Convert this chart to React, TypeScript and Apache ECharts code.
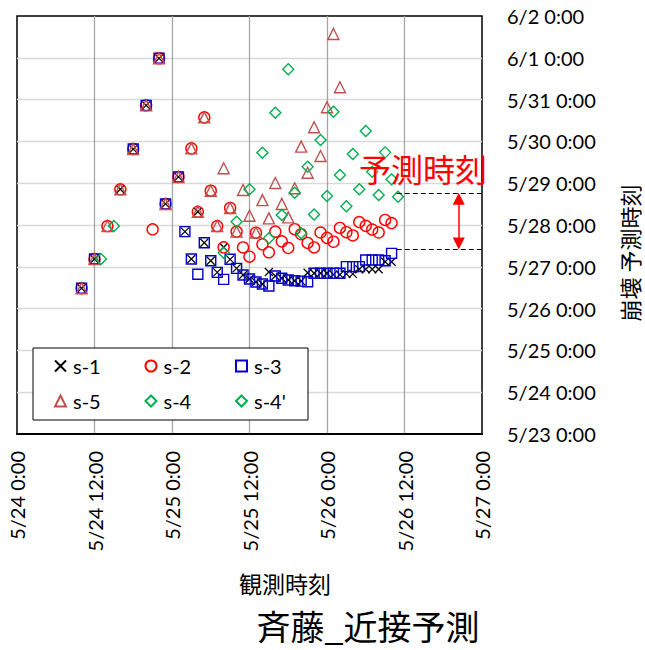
import React, { useEffect, useRef } from 'react';
import * as echarts from 'echarts';

// x: observation time, hours after 5/24 0:00; y: predicted failure time, hours after 5/23 0:00
const s1Hours = [10, 12, 16, 18, 20, 22, 23, 25, 26, 27, 28, 29, 30, 31, 32, 33, 34, 35, 36, 37, 38, 39, 40, 41, 42, 43, 44, 45, 46, 47, 48, 49, 50, 51, 52, 53, 54, 55, 56, 57, 58];
const s1Pred = [83.7, 100.5, 140.5, 163.6, 188.7, 215.7, 132.1, 147.6, 116.2, 100.5, 127.6, 109.8, 99.5, 92.8, 107.2, 100.3, 95.1, 91.3, 89.0, 87.3, 86.1, 93.0, 90.7, 89.4, 88.4, 88.0, 87.8, 92.6, 92.3, 92.3, 92.3, 91.5, 91.5, 91.9, 91.9, 94.6, 94.6, 94.6, 94.6, 98.9, 98.9];

const s2Hours = [10, 12, 14, 16, 18, 20, 21, 22, 23, 25, 27, 28, 29, 30, 31, 32, 33, 34, 35, 36, 37, 38, 39, 40, 41, 42, 43, 44, 45, 46, 47, 48, 49, 50, 51, 52, 53, 54, 55, 56, 57, 58];
const s2Pred = [83.7, 100.5, 119.4, 140.5, 163.6, 188.7, 117.5, 215.7, 132.1, 147.6, 164.0, 127.6, 181.8, 139.7, 119.4, 107.2, 129.8, 116.2, 107.1, 101.8, 115.6, 108.9, 104.3, 116.2, 110.6, 106.8, 117.6, 114.7, 109.7, 107.1, 115.7, 112.6, 110.4, 118.3, 115.9, 114.0, 121.7, 119.5, 117.4, 115.7, 122.9, 121.1];

const s3Hours = [10, 12, 18, 20, 22, 23, 25, 26, 27, 28, 29, 30, 31, 32, 33, 34, 35, 36, 37, 38, 39, 40, 41, 42, 43, 44, 45, 46, 47, 48, 49, 50, 51, 52, 53, 54, 55, 56, 57, 58];
const s3Pred = [83.7, 100.5, 163.6, 188.7, 215.7, 132.1, 147.6, 116.2, 100.5, 91.7, 109.8, 99.5, 92.8, 88.8, 100.3, 95.1, 91.3, 89.0, 87.3, 86.1, 85.0, 90.7, 89.4, 88.4, 88.0, 87.8, 87.4, 92.3, 92.3, 92.3, 92.3, 92.3, 96.1, 96.1, 96.1, 99.9, 99.9, 99.9, 99.5, 103.7];

const s5Hours = [10, 12, 14, 16, 18, 20, 22, 23, 25, 27, 28, 29, 30, 31, 32, 33, 34, 35, 36, 37, 38, 39, 40, 41, 42, 43, 44, 45, 46, 47, 48, 49, 50];
const s5Pred = [83.7, 100.5, 119.4, 140.5, 163.6, 188.7, 215.7, 132.1, 147.6, 164.0, 127.6, 181.8, 139.7, 119.4, 152.6, 129.8, 116.2, 140.1, 125.3, 115.6, 134.3, 123.8, 144.1, 132.1, 124.4, 141.1, 165.0, 150.0, 176.1, 159.6, 187.6, 229.7, 199.1];

const s4Hours = [13, 15, 32, 34, 36, 38, 39, 40, 41, 42, 43, 44];
const s4Pred = [100.5, 119.4, 104.1, 121.9, 140.5, 161.5, 112.4, 184.5, 125.7, 209.4, 138.5, 115.2];

const s4pHours = [45, 46, 47, 48, 49, 50, 51, 52, 53, 54, 55, 56, 57, 58, 59];
const s4pPred = [153.5, 126.0, 168.8, 136.6, 185.0, 148.7, 130.7, 160.8, 140.5, 174.0, 150.6, 137.2, 161.7, 146.2, 136.2];

// annotation: prediction range (hours after 5/23 0:00)
const predUpper = 138.5;
const predLower = 106.0;
const predFromHour = 58.8;
const arrowHour = 68.4;

const xTickHours = [0, 12, 24, 36, 48, 60, 72];
const yTickHours = [0, 24, 48, 72, 96, 120, 144, 168, 192, 216, 240];

const LATIN = "Lato, 'Noto Sans CJK JP', sans-serif";
const CJK = "'Noto Sans CJK JP', sans-serif";

const xLabel = (h: number) => {
  const day = 24 + Math.floor(h / 24);
  return `5/${day} ${h % 24}:00`;
};
const yLabel = (h: number) => {
  const d = 23 + Math.round(h / 24);
  return d > 31 ? `6/${d - 31} 0:00` : `5/${d} 0:00`;
};

const hollow = (name: string, hours: number[], pred: number[], symbol: string, size: number, color: string, bw = 1.4) => ({
  type: 'scatter',
  name,
  data: hours.map((h, i) => [h, pred[i]]),
  symbol,
  symbolSize: size,
  itemStyle: { color: 'rgba(0,0,0,0)', borderColor: color, borderWidth: bw, opacity: 1 },
  emphasis: { disabled: true },
  z: 2,
});

export default function App() {
  const ref = useRef<HTMLDivElement>(null);
  useEffect(() => {
    if (!ref.current) return;
    const chart = echarts.init(ref.current, undefined, { renderer: 'svg' });
    const legendBase = {
      itemWidth: 11,
      itemHeight: 11,
      itemGap: 0,
      padding: 0,
      selectedMode: false,
      z: 10,
      textStyle: { fontSize: 20, color: '#000', fontFamily: LATIN, padding: [0, 0, 0, 2] },
    };
    const s1 = hollow('s-1', s1Hours, s1Pred, 'path://M0,0L10,10M10,0L0,10', 8, '#000', 1.2);
    const s2 = hollow('s-2', s2Hours, s2Pred, 'circle', 11, '#FF0000');
    const s3 = hollow('s-3', s3Hours, s3Pred, 'rect', 10, '#0000C8');
    const s5 = hollow('s-5', s5Hours, s5Pred, 'triangle', 11, '#C0504D');
    const s4: any = hollow('s-4', s4Hours, s4Pred, 'diamond', 11, '#00B050');
    const s4p: any = hollow("s-4'", s4pHours, s4pPred, 'diamond', 11, '#00B050');
    s4p.markLine = {
      silent: true,
      symbol: 'none',
      label: { show: false },
      lineStyle: { color: '#000', type: [5, 3], width: 1.2 },
      data: [
        [{ coord: [predFromHour, predUpper] }, { coord: [72, predUpper] }],
        [{ coord: [predFromHour, predLower] }, { coord: [72, predLower] }],
      ],
    };
    s4.markLine = {
      silent: true,
      symbol: ['triangle', 'triangle'],
      symbolSize: 12,
      label: { show: false },
      lineStyle: { color: '#FF0000', type: 'solid', width: 1.5 },
      itemStyle: { color: '#FF0000' },
      data: [[{ coord: [arrowHour, predUpper - 3.4] }, { coord: [arrowHour, predLower + 3.4] }]],
    };

    chart.setOption({
      animation: false,
      backgroundColor: '#fff',
      grid: {
        left: 17,
        top: 16,
        right: 163,
        bottom: 216,
        show: true,
        borderColor: '#000',
        borderWidth: 1.5,
        containLabel: false,
        outerBoundsMode: 'none',
      },
      xAxis: {
        type: 'value',
        min: xTickHours[0],
        max: xTickHours[xTickHours.length - 1],
        interval: 12,
        axisLine: { show: true, onZero: false, lineStyle: { color: '#000', width: 2 } },
        axisTick: { show: false },
        axisLabel: {
          rotate: 90,
          margin: 17,
          fontSize: 20,
          color: '#000',
          fontFamily: LATIN,
          formatter: (v: number) => xLabel(v),
        },
        splitLine: { show: true, showMinLine: false, showMaxLine: false, lineStyle: { color: '#A6A6A6', width: 1.3 } },
      },
      yAxis: {
        type: 'value',
        position: 'right',
        min: yTickHours[0],
        max: yTickHours[yTickHours.length - 1],
        interval: 24,
        axisLine: { show: false },
        axisTick: { show: false },
        axisLabel: {
          margin: 25,
          fontSize: 20,
          color: '#000',
          fontFamily: LATIN,
          formatter: (v: number) => yLabel(v),
        },
        splitLine: { show: true, showMinLine: false, showMaxLine: false, lineStyle: { color: '#D9D9D9', width: 1.3 } },
      },
      legend: [
        { ...legendBase, data: ['s-1'], left: 54, top: 356 },
        { ...legendBase, data: ['s-2'], left: 144.5, top: 356 },
        { ...legendBase, data: ['s-3'], left: 235, top: 356 },
        { ...legendBase, data: ['s-5'], left: 54, top: 391 },
        { ...legendBase, data: ['s-4'], left: 144.5, top: 391 },
        { ...legendBase, data: ["s-4'"], left: 235, top: 391 },
      ],
      graphic: [
        {
          type: 'rect',
          z: 5,
          shape: { x: 33, y: 348, width: 275, height: 72 },
          style: { fill: '#fff', stroke: '#000', lineWidth: 1 },
        },
        {
          type: 'text',
          z: 6,
          x: 423,
          y: 168,
          style: { text: '予測時刻', fill: '#FF0000', fontSize: 32, fontFamily: CJK, align: 'center', verticalAlign: 'middle', textAlign: 'center', textVerticalAlign: 'middle' },
        },
        {
          type: 'text',
          z: 6,
          x: 285,
          y: 583,
          style: { text: '観測時刻', fill: '#000', fontSize: 23, fontFamily: CJK, align: 'center', verticalAlign: 'middle', textAlign: 'center', textVerticalAlign: 'middle' },
        },
        {
          type: 'text',
          z: 6,
          x: 629,
          y: 253,
          rotation: Math.PI / 2,
          style: { text: '崩壊 予測時刻', fill: '#000', fontSize: 22, fontFamily: CJK, align: 'center', verticalAlign: 'middle', textAlign: 'center', textVerticalAlign: 'middle' },
        },
        {
          type: 'text',
          z: 6,
          x: 368,
          y: 625,
          style: { text: '斉藤_近接予測', fill: '#000', fontSize: 34, fontFamily: CJK, align: 'center', verticalAlign: 'middle', textAlign: 'center', textVerticalAlign: 'middle' },
        },
      ],
      series: [s1, s2, s3, s5, s4, s4p],
    });
    return () => chart.dispose();
  }, []);
  return <div ref={ref} style={{ position: 'absolute', left: 0, top: 0, width: 645, height: 650, background: '#fff' }} />;
}
